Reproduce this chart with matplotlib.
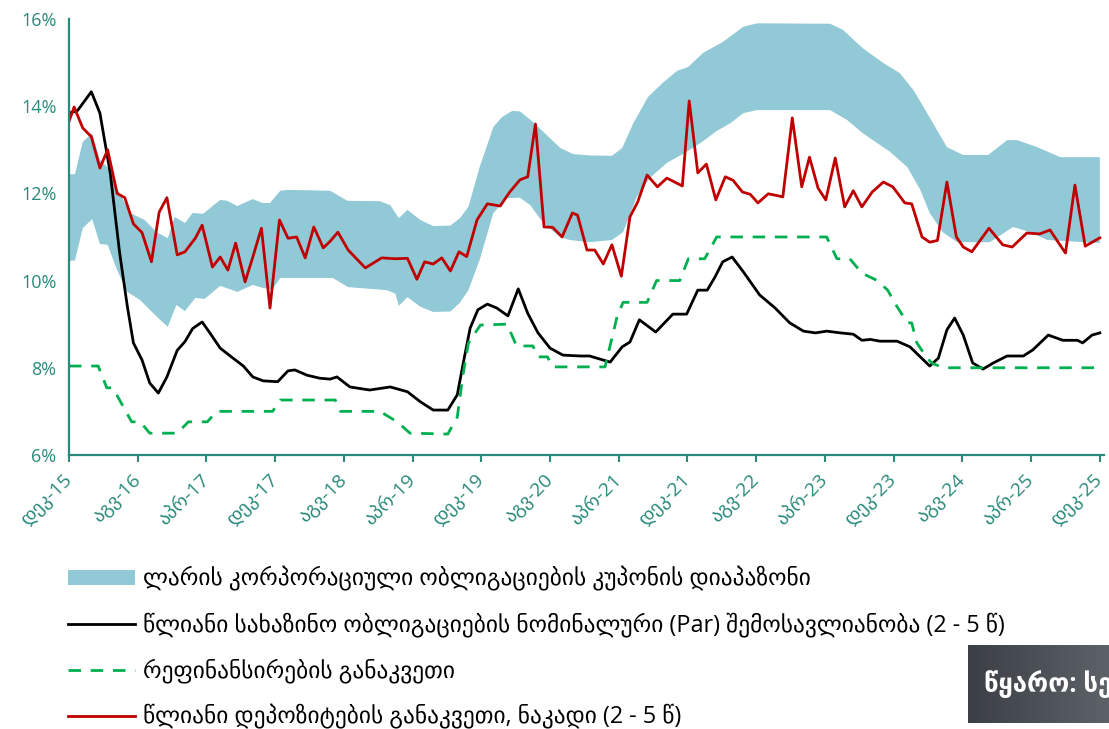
import numpy as np
import matplotlib.pyplot as plt
from matplotlib.colors import LinearSegmentedColormap

# x = months since Dec-2015
tick_pos = list(range(0, 121, 8))
tick_labels = ["დეკ-15", "აგვ-16", "აპრ-17", "დეკ-17", "აგვ-18", "აპრ-19", "დეკ-19", "აგვ-20",
               "აპრ-21", "დეკ-21", "აგვ-22", "აპრ-23", "დეკ-23", "აგვ-24", "აპრ-25", "დეკ-25"]

# corporate bond coupon range (upper / lower edge)
band_hi_m = [0, 0.7, 1.6, 2.7, 3.6, 4.8, 5.7, 7.1, 8.8, 10.2, 11.5, 12.3, 13.5, 14.4, 15.6, 17.6,
             18.4, 19.6, 21.4, 22.5, 23.4, 24.6, 25.5, 30.4, 32.4, 36.2, 37.4, 38.4, 39.4, 40.9,
             42.4, 44.4, 45.5, 46.5, 47.8, 49.4, 50.4, 51.6, 52.5, 54.0, 55.6, 57.2, 58.7, 60.6,
             63.2, 64.4, 65.7, 67.4, 69.2, 70.8, 72.1, 73.8, 76.1, 78.5, 80.1, 88.6, 90.1, 92.4,
             94.8, 96.7, 98.3, 99.9, 102.2, 104.1, 107.0, 109.2, 110.4, 112.7, 115.4, 120.0]
band_hi_v = [12.44, 12.44, 13.18, 13.38, 12.77, 12.54, 12.08, 11.55, 11.39, 11.11, 10.97, 11.46,
             11.32, 11.55, 11.53, 11.85, 11.83, 11.71, 11.87, 11.78, 11.78, 12.06, 12.08, 12.06,
             11.83, 11.82, 11.73, 11.43, 11.62, 11.39, 11.25, 11.26, 11.43, 11.69, 12.60, 13.52,
             13.75, 13.89, 13.88, 13.64, 13.34, 13.04, 12.90, 12.87, 12.86, 13.04, 13.61, 14.21,
             14.55, 14.81, 14.90, 15.22, 15.47, 15.82, 15.90, 15.89, 15.75, 15.33, 14.99, 14.76,
             14.37, 13.84, 13.06, 12.88, 12.88, 13.22, 13.22, 13.06, 12.83, 12.83]
band_lo_m = [0, 0.7, 1.6, 2.7, 3.6, 4.5, 5.6, 6.8, 8.3, 9.4, 10.6, 11.5, 12.5, 13.5, 14.7, 15.8,
             17.6, 19.6, 21.4, 22.6, 23.7, 24.6, 30.7, 32.5, 37.0, 38.0, 38.4, 39.4, 40.9, 42.4,
             44.4, 45.5, 46.5, 47.8, 49.4, 51.0, 52.5, 53.7, 55.2, 57.2, 58.3, 60.6, 63.2, 64.5,
             66.1, 67.6, 69.6, 71.7, 73.7, 75.4, 77.0, 78.5, 80.1, 88.6, 90.6, 92.4, 95.6, 97.6,
             99.1, 100.2, 101.7, 103.4, 107.2, 109.9, 111.9, 113.9, 120.0]
band_lo_v = [10.45, 10.46, 11.20, 11.41, 10.84, 10.82, 10.24, 9.74, 9.55, 9.33, 9.10, 8.94, 9.44,
             9.30, 9.60, 9.58, 9.88, 9.74, 9.90, 9.83, 9.80, 10.06, 10.06, 9.85, 9.78, 9.70, 9.42,
             9.62, 9.40, 9.28, 9.29, 9.49, 9.78, 10.47, 11.55, 11.89, 11.90, 11.73, 11.32, 11.00,
             10.93, 10.88, 10.93, 11.11, 11.92, 12.35, 12.70, 12.93, 13.18, 13.43, 13.61, 13.84,
             13.91, 13.91, 13.68, 13.38, 12.95, 12.60, 12.08, 11.55, 11.11, 10.88, 10.88, 11.23,
             11.11, 10.93, 10.86]

# treasury bond par yield
tsy_m = [0, 1.0, 2.6, 3.6, 4.8, 5.9, 6.8, 7.5, 8.5, 9.4, 10.4, 11.4, 12.6, 13.5, 14.4, 15.5, 16.4,
         17.6, 19.1, 20.3, 21.4, 22.6, 24.3, 25.5, 26.3, 27.7, 29.2, 30.4, 31.2, 32.7, 35.0, 37.4,
         39.4, 40.9, 42.4, 44.1, 45.2, 45.9, 46.7, 47.6, 48.7, 49.8, 51.1, 52.3, 53.4, 54.6, 56.0,
         57.5, 59.5, 60.6, 63.0, 64.4, 65.3, 66.4, 68.3, 70.3, 71.9, 73.2, 74.3, 75.2, 76.1, 77.2,
         78.5, 80.4, 82.2, 83.9, 85.5, 86.9, 88.2, 89.8, 91.3, 92.3, 93.3, 94.4, 96.4, 97.9, 99.1,
         100.2, 101.2, 102.2, 103.1, 104.1, 105.2, 106.4, 107.6, 109.2, 111.1, 112.2, 114.0,
         115.7, 117.4, 118.0, 119.1, 120.0]
tsy_v = [13.84, 13.90, 14.33, 13.84, 12.47, 10.63, 9.40, 8.57, 8.18, 7.65, 7.42, 7.79, 8.40, 8.60,
         8.90, 9.05, 8.80, 8.45, 8.22, 8.04, 7.79, 7.70, 7.68, 7.93, 7.95, 7.83, 7.76, 7.74, 7.79,
         7.56, 7.49, 7.56, 7.45, 7.22, 7.03, 7.03, 7.38, 8.11, 8.91, 9.33, 9.46, 9.37, 9.19, 9.81,
         9.25, 8.80, 8.45, 8.29, 8.27, 8.27, 8.13, 8.48, 8.59, 9.10, 8.82, 9.23, 9.23, 9.78, 9.78,
         10.08, 10.43, 10.54, 10.20, 9.67, 9.37, 9.03, 8.84, 8.80, 8.84, 8.80, 8.77, 8.63, 8.65,
         8.61, 8.61, 8.48, 8.25, 8.04, 8.22, 8.87, 9.14, 8.75, 8.11, 7.97, 8.11, 8.27, 8.27, 8.41,
         8.75, 8.63, 8.63, 8.57, 8.75, 8.80]

# refinancing rate
ref_m = [0, 3.4, 4.4, 5.1, 7.3, 8.3, 9.4, 12.6, 13.9, 16.1, 17.2, 23.7, 24.6, 31.0, 31.6, 36.2,
         38.2, 39.7, 44.1, 45.2, 45.9, 46.5, 47.9, 51.0, 52.1, 54.0, 54.6, 55.7, 56.3, 62.4, 63.8,
         64.5, 67.3, 68.4, 71.1, 72.1, 74.0, 75.4, 88.2, 89.4, 90.9, 92.3, 94.1, 95.3, 96.4, 97.6,
         98.1, 98.7, 99.9, 100.5, 101.8, 120.0]
ref_v = [8.04, 8.04, 7.54, 7.54, 6.76, 6.76, 6.50, 6.50, 6.76, 6.76, 7.00, 7.00, 7.26, 7.26, 7.00,
         7.00, 6.76, 6.50, 6.48, 6.87, 7.88, 8.57, 8.98, 9.00, 8.50, 8.50, 8.25, 8.25, 8.02, 8.02,
         9.17, 9.50, 9.50, 10.00, 10.00, 10.50, 10.50, 11.00, 11.00, 10.50, 10.50, 10.17, 10.00,
         9.78, 9.40, 9.03, 9.03, 8.57, 8.22, 8.10, 8.00, 8.00]

# deposit rate (new flows)
dep_m = [0, 0.6, 1.6, 2.6, 3.6, 4.5, 5.6, 6.5, 7.5, 8.5, 9.6, 10.5, 11.4, 12.6, 13.5, 14.7, 15.5,
         16.7, 17.6, 18.5, 19.4, 20.5, 21.4, 22.4, 23.4, 24.5, 25.5, 26.5, 27.5, 28.5, 29.6, 30.4,
         31.3, 32.5, 34.5, 36.4, 38.0, 39.4, 40.5, 41.4, 42.4, 43.4, 44.4, 45.4, 46.3, 47.5, 48.7,
         50.2, 51.3, 52.5, 53.4, 54.3, 55.3, 56.3, 57.4, 58.6, 59.2, 60.3, 61.2, 62.2, 63.2, 64.3,
         65.3, 66.2, 67.3, 68.5, 69.6, 71.4, 72.2, 73.2, 74.2, 75.3, 76.4, 77.3, 78.4, 79.3, 80.2,
         81.4, 82.4, 83.1, 84.2, 85.3, 86.2, 87.2, 88.1, 89.2, 90.3, 91.3, 92.3, 93.5, 94.8, 95.9,
         97.3, 98.1, 99.3, 100.2, 101.1, 102.2, 103.3, 104.1, 105.1, 107.1, 108.7, 109.8, 111.5,
         113.0, 114.2, 116.0, 117.1, 118.3, 120.0]
dep_v = [13.65, 13.98, 13.50, 13.30, 12.58, 13.00, 12.00, 11.90, 11.30, 11.10, 10.43, 11.57, 11.90,
         10.59, 10.66, 10.97, 11.27, 10.31, 10.54, 10.24, 10.86, 9.97, 10.54, 11.20, 9.37, 11.39,
         10.97, 11.00, 10.52, 11.23, 10.75, 10.90, 11.11, 10.70, 10.29, 10.52, 10.50, 10.51, 10.03,
         10.43, 10.38, 10.52, 10.22, 10.66, 10.55, 11.39, 11.76, 11.71, 12.03, 12.31, 12.38, 13.59,
         11.23, 11.22, 11.00, 11.55, 11.50, 10.70, 10.70, 10.38, 10.82, 10.10, 11.46, 11.80, 12.42,
         12.15, 12.35, 12.17, 14.12, 12.47, 12.67, 11.85, 12.38, 12.30, 12.03, 11.98, 11.78, 11.99,
         11.95, 11.92, 13.73, 12.15, 12.83, 12.12, 11.85, 12.81, 11.69, 12.06, 11.69, 12.03, 12.26,
         12.15, 11.78, 11.76, 11.00, 10.88, 10.92, 12.26, 11.00, 10.77, 10.66, 11.20, 10.82, 10.77,
         11.09, 11.07, 11.16, 10.63, 12.19, 10.79, 10.98]

labels = ["ლარის კორპორაციული ობლიგაციების კუპონის დიაპაზონი",
          "წლიანი სახაზინო ობლიგაციების ნომინალური (Par) შემოსავლიანობა (2 - 5 წ)",
          "რეფინანსირების განაკვეთი",
          "წლიანი დეპოზიტების განაკვეთი, ნაკადი (2 - 5 წ)"]

teal = "#2A8A7B"
plt.rcParams["font.family"] = ["Open Sans", "DejaVu Sans"]

fig = plt.figure(figsize=(11.09, 7.29), dpi=100)
ax = fig.add_axes([0.0622, 0.3759, 0.9334, 0.5981])

band = ax.fill(np.r_[band_hi_m, band_lo_m[::-1]], np.r_[band_hi_v, band_lo_v[::-1]],
               color="#92C9D6", lw=0, label=labels[0])[0]
l1, = ax.plot(tsy_m, tsy_v, color="black", lw=2.0, solid_joinstyle="round", label=labels[1])
l2, = ax.plot(ref_m, ref_v, color="#00B050", lw=2.0, dashes=(4.5, 3.5), label=labels[2])
l3, = ax.plot(dep_m, dep_v, color="#C00000", lw=2.0, solid_joinstyle="round", label=labels[3])

ax.set_xlim(0, 120.5)
ax.set_ylim(6, 16)
ax.set_yticks(range(6, 17, 2))
ax.set_yticklabels([f"{v}%" for v in range(6, 17, 2)])
ax.set_xticks(tick_pos)
ax.set_xticklabels(tick_labels, rotation=45, ha="right", va="center", rotation_mode="anchor")

for s in ["top", "right"]:
    ax.spines[s].set_visible(False)
for s in ["left", "bottom"]:
    ax.spines[s].set_color(teal)
    ax.spines[s].set_linewidth(1.6)
ax.tick_params(axis="y", length=0, pad=9, labelsize=13, labelcolor=teal)
ax.tick_params(axis="x", length=5, width=1.5, color=teal, pad=11, labelsize=14, labelcolor=teal)

leg = fig.legend([band, l1, l2, l3], labels, loc="upper left", bbox_to_anchor=(0.061, 0.223),
                 frameon=False, fontsize=16.8, handlelength=2.9, handleheight=0.6,
                 handletextpad=0.34, labelspacing=0.91, borderpad=0, borderaxespad=0)

# source box (gradient, cut by the figure edge)
bax = fig.add_axes([968 / 1109, 6 / 729, 141 / 1109, 78 / 729])
bax.imshow(np.linspace(0, 1, 64).reshape(1, -1), aspect="auto",
           cmap=LinearSegmentedColormap.from_list("g", ["#3c4046", "#5c6268"]), extent=(0, 1, 0, 1))
bax.set_axis_off()
bax.text(0.11, 0.5, "წყარო: სებ", color="white", fontsize=18.5, fontweight="bold",
         va="center", ha="left", transform=bax.transAxes, clip_on=True)

fig.savefig("out.png", dpi=100)
